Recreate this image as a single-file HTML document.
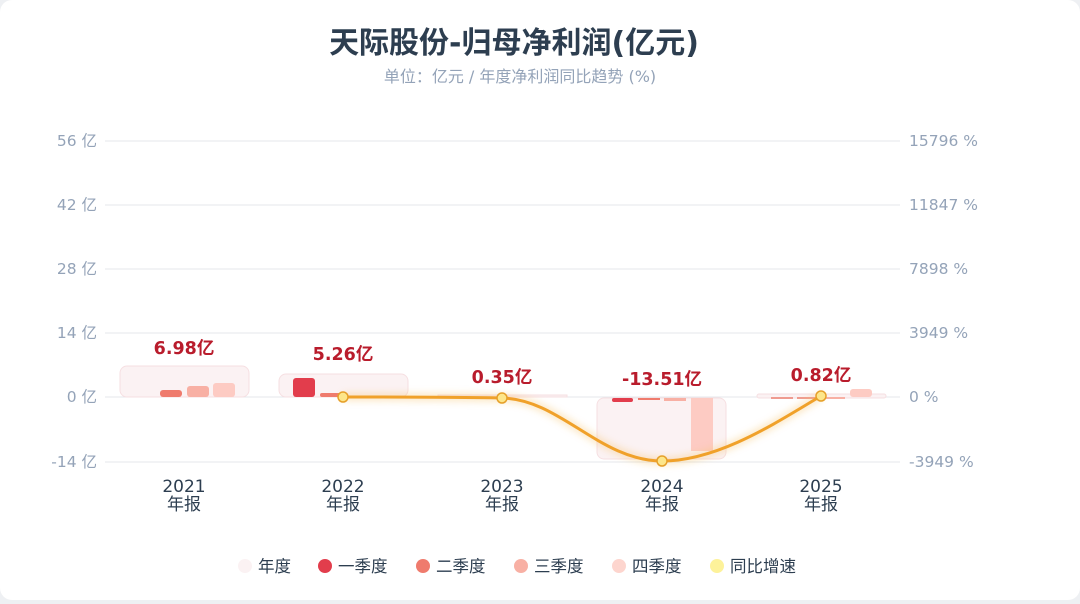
<!DOCTYPE html>
<html><head><meta charset="utf-8"><style>
body{margin:0;background:#eef0f3;font-family:"DejaVu Sans","Noto Sans CJK SC",sans-serif;overflow:hidden}
.card{position:absolute;left:0;top:0;width:1080px;height:600px;background:#fff;border-radius:12px}
</style></head><body><div class="card">
<svg width="1080" height="600" xmlns="http://www.w3.org/2000/svg" style="font-family:'DejaVu Sans','Noto Sans CJK SC',sans-serif">
<defs><filter id="gl" x="-20%" y="-50%" width="140%" height="200%"><feGaussianBlur stdDeviation="4"/></filter></defs>
<text x="514" y="53" text-anchor="middle" font-size="30" font-weight="bold" fill="#2d3e50">天际股份-归母净利润(亿元)</text>
<text x="520" y="82" text-anchor="middle" font-size="16" fill="#94a3b8">单位：亿元 / 年度净利润同比趋势 (%)</text>
<g stroke="#e5e7eb" stroke-width="1">
<line x1="105" x2="900" y1="141" y2="141"/><line x1="105" x2="900" y1="205" y2="205"/>
<line x1="105" x2="900" y1="269" y2="269"/><line x1="105" x2="900" y1="333" y2="333"/>
<line x1="105" x2="900" y1="397" y2="397"/><line x1="105" x2="900" y1="462" y2="462"/>
</g>
<g font-size="15.5" fill="#94a3b8" text-anchor="end">
<text x="97" y="146">56 亿</text><text x="97" y="210">42 亿</text><text x="97" y="274">28 亿</text>
<text x="97" y="338">14 亿</text><text x="97" y="402">0 亿</text><text x="97" y="467">-14 亿</text>
</g>
<g font-size="15.5" fill="#94a3b8">
<text x="909" y="146">15796 %</text><text x="909" y="210">11847 %</text><text x="909" y="274">7898 %</text>
<text x="909" y="338">3949 %</text><text x="909" y="402">0 %</text><text x="909" y="467">-3949 %</text>
</g>
<g fill="#fbf2f3" stroke="#f6dfe2" stroke-width="1">
<rect x="120" y="366" width="129" height="31" rx="7"/>
<rect x="279" y="374" width="129" height="23" rx="7"/>
<rect x="438" y="395" width="129" height="2"/>
<rect x="597" y="398" width="129" height="61" rx="7"/>
<rect x="757" y="394" width="129" height="4" rx="2"/>
</g>
<rect x="160" y="390" width="22" height="7" rx="3" fill="#ef7b6d"/>
<rect x="187" y="386" width="22" height="11" rx="3" fill="#f8b0a4"/>
<rect x="213" y="383" width="22" height="14" rx="3" fill="#fdcbc3"/>
<rect x="293" y="378" width="22" height="19" rx="3" fill="#e23d4c"/>
<rect x="320" y="393" width="22" height="4" rx="2" fill="#ef7b6d"/>
<rect x="612" y="398" width="21" height="4" rx="2" fill="#e23d4c"/>
<rect x="638" y="398" width="22" height="2" fill="#ef7b6d"/>
<rect x="664" y="398" width="22" height="3" fill="#f8b0a4"/>
<rect x="691" y="398" width="22" height="53" fill="#fdcbc3"/>
<rect x="771" y="397" width="22" height="2" fill="#ef9b90"/>
<rect x="797" y="397" width="22" height="2" fill="#ef9b90"/>
<rect x="823" y="397" width="22" height="2" fill="#f8b0a4"/>
<rect x="850" y="389" width="22" height="8" rx="3" fill="#fdcbc3"/>
<g font-size="17.5" font-weight="bold" fill="#b91c2c" text-anchor="middle">
<text x="184" y="354">6.98亿</text><text x="343" y="360">5.26亿</text><text x="502" y="383">0.35亿</text>
<text x="662" y="385">-13.51亿</text><text x="821" y="381">0.82亿</text>
</g>
<path d="M343,397 C400,397 450,397 502,398 C560,399 600,461 662,461 C720,461 780,420 821,396" fill="none" stroke="#f6c26a" stroke-width="6" opacity="0.5" filter="url(#gl)"/>
<path d="M343,397 C400,397 450,397 502,398 C560,399 600,461 662,461 C720,461 780,420 821,396" fill="none" stroke="#f0a12a" stroke-width="3"/>
<g fill="#fde68a" stroke="#e6a02a" stroke-width="1.5">
<circle cx="343" cy="397" r="5"/><circle cx="502" cy="398" r="5"/><circle cx="662" cy="461" r="5"/><circle cx="821" cy="396" r="5"/>
</g>
<g font-size="17" fill="#2d3e50" text-anchor="middle">
<text x="184" y="492">2021</text><text x="184" y="510">年报</text>
<text x="343" y="492">2022</text><text x="343" y="510">年报</text>
<text x="502" y="492">2023</text><text x="502" y="510">年报</text>
<text x="662" y="492">2024</text><text x="662" y="510">年报</text>
<text x="821" y="492">2025</text><text x="821" y="510">年报</text>
</g>
<g font-size="16.5" fill="#2d3e50">
<circle cx="245" cy="566" r="7" fill="#fbf2f3"/><text x="258" y="572">年度</text>
<circle cx="325" cy="566" r="7" fill="#e23d4c"/><text x="338" y="572">一季度</text>
<circle cx="423" cy="566" r="7" fill="#ef7b6d"/><text x="436" y="572">二季度</text>
<circle cx="521" cy="566" r="7" fill="#f8b0a4"/><text x="534" y="572">三季度</text>
<circle cx="619" cy="566" r="7" fill="#fdd5ce"/><text x="632" y="572">四季度</text>
<circle cx="717" cy="566" r="7" fill="#fdf29a"/><text x="730" y="572">同比增速</text>
</g>
</svg></div></body></html>
